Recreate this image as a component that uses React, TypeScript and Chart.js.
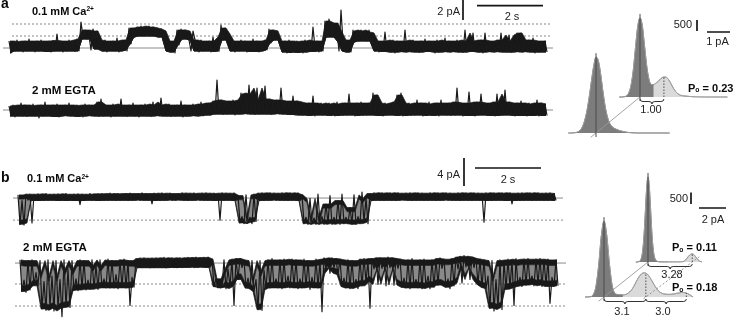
import React, { useEffect, useRef } from "react";
import { Chart, registerables } from "chart.js";

Chart.register(...registerables);

const FONT = '"Liberation Sans", Arial, Helvetica, sans-serif';

// Traces are sampled every SAMPLE_DT seconds; each sample keeps the upper and lower excursion (pA).
const SAMPLE_DT = 4 / 33;

// ---------- panel a, 0.1 mM Ca2+ (openings upward) ----------
const aCaHi = [
  0.5, 0.4, 0.6, 0.45, 0.5, 0.7, 0.4, 0.5, 0.6, 0.45,
  0.5, 0.55, 1.2, 0.5, 0.4, 0.6, 0.5, 0.7,
  2.4, 1.6, 1.0, 1.7, 1.5,
  0.5, 0.6, 0.4, 0.5, 0.8, 0.5, 0.6,
  1.8, 1.8, 1.9, 2.0, 1.9, 2.0, 1.9, 1.8, 1.7, 1.5,
  0.5, 0.4, 1.6, 1.7, 1.6, 0.6, 1.5,
  0.5, 0.6, 0.45, 0.5, 0.9, 0.5,
  2.1, 1.8, 1.2,
  0.5, 0.4, 0.6, 0.5, 0.45, 0.7, 0.5, 0.4, 0.6,
  1.7, 1.6, 1.5,
  0.4, 0.5, 0.6, 0.4, 0.5, 0.45, 0.6, 0.5,
  1.9, 0.5, 0.4,
  2.5, 2.7, 2.3, 1.4, 3.6,
  0.6, 0.5,
  1.6, 1.5, 1.6, 1.4, 1.6, 1.3,
  0.5, 0.4, 1.4, 0.5, 0.6, 0.5, 0.45, 1.6, 0.5, 0.6,
  0.4, 0.5, 0.7, 0.5, 0.45, 0.6, 0.5, 0.8, 0.5, 0.4,
  0.6, 0.5, 1.6, 0.5, 1.3, 0.5, 0.6, 1.3, 0.5, 0.45,
  0.6, 1.3, 0.5, 1.1, 0.5, 1.3, 1.3, 0.5, 0.6, 0.8,
  0.5, 0.45, 0.5,
];
const aCaLo = [
  -0.7, -0.5, -0.4, -0.6, -0.5, -0.45, -0.6, -0.5, -0.4, -0.55,
  -0.6, -0.5, -0.45, -0.6, -0.5, -0.4, -0.55, -0.5,
  0.9, 0.7, -0.4, 0.8, -0.3,
  -0.5, -0.6, -0.45, -0.5, -0.6, -0.4, -0.5,
  0.2, 0.9, 1.0, 1.0, 1.1, 1.0, 1.0, 0.9, 0.9, -0.5,
  -0.6, -0.7, 0.1, 0.7, 0.8, -0.5, 0.6,
  -0.6, -0.5, -0.45, -0.6, -0.5, -0.55,
  0.6, 0.8, -0.5,
  -0.6, -0.5, -0.45, -0.6, -0.5, -0.55, -0.6, -0.5, -0.4,
  0.3, 0.6, 0.7,
  -0.6, -0.7, -0.6, -0.65, -0.6, -0.7, -0.6, -0.55,
  -0.2, -0.6, -0.5,
  0.9, 1.0, 0.9, -0.5, 0.4,
  -0.6, -0.6,
  0.4, 0.5, 0.6, 0.5, 0.5, -0.5,
  -0.6, -0.5, -0.55, -0.6, -0.7, -0.5, -0.6, -0.55, -0.6, -0.5,
  -0.65, -0.6, -0.5, -0.55, -0.7, -0.6, -0.5, -0.6, -0.55, -0.6,
  -0.5, -0.65, -0.6, -0.5, -0.55, -0.6, -0.7, -0.5, -0.6, -0.55,
  -0.6, -0.5, -0.6, -0.65, -0.5, -0.6, -0.55, -0.6, -0.5, -0.7,
  -0.6, -0.55, -0.6,
];
const aCaSolidLevels = [-0.2];
const aCaDashedLevels = [1.0, 2.2];

// ---------- panel a, 2 mM EGTA ----------
const aEgtaHi = [
  0.4, 0.5, 0.45, 0.7, 0.5, 0.4, 0.6, 0.45, 0.5, 0.8,
  0.45, 0.5, 0.6, 0.4, 0.5, 0.7, 0.45, 0.5, 0.4, 0.6,
  0.5, 0.45, 0.8, 1.1, 0.5, 0.4, 0.6, 0.5, 1.1, 0.45,
  0.5, 0.7, 0.45, 0.5, 0.6, 0.4, 0.8, 0.5, 1.2, 0.5,
  0.6, 0.45, 0.5, 0.9, 0.5, 0.4, 0.6, 0.5, 0.8, 0.6,
  0.7, 0.9, 3.0, 1.0, 0.9, 0.8, 1.0, 0.9, 1.7, 1.6,
  2.5, 1.0, 2.2, 0.9, 2.4, 1.1, 0.9, 1.0, 2.2, 0.9,
  0.8, 1.4, 0.9, 0.8, 0.6, 0.7, 1.4, 0.6, 0.7, 0.6,
  0.7, 0.6, 0.8, 0.6, 0.7, 1.6, 0.6, 0.7, 0.8, 0.6,
  0.7, 1.7, 1.5, 0.6, 0.7, 0.6, 0.8, 1.5, 1.7, 0.6,
  0.7, 0.6, 1.0, 0.7, 0.6, 0.8, 0.6, 0.7, 1.0, 0.6,
  0.7, 0.8, 2.2, 0.7, 0.6, 1.8, 0.7, 0.8, 1.6, 0.7,
  0.6, 0.8, 1.6, 0.7, 2.0, 0.8, 0.6, 0.7, 0.9, 0.6,
  0.7, 0.6, 1.0, 0.7, 0.6,
];
const aEgtaLo = [
  -0.6, -0.7, -0.5, -0.6, -0.65, -0.55, -0.6, -0.8, -0.6, -0.5,
  -0.6, -0.65, -0.7, -0.55, -0.6, -0.5, -0.65, -0.6, -0.7, -0.55,
  -0.6, -0.5, -0.65, -0.6, -0.55, -0.7, -0.6, -0.5, -0.6, -0.65,
  -0.55, -0.6, -0.7, -0.5, -0.6, -0.65, -0.55, -0.6, -0.5, -0.6,
  -0.65, -0.6, -0.55, -0.7, -0.6, -0.5, -0.6, -0.55, -0.6, -0.5,
  -0.5, -0.4, -0.3, -0.45, -0.4, -0.35, -0.5, -0.4, -0.3, -0.4,
  -0.35, -0.45, -0.4, -0.3, -0.4, -0.45, -0.35, -0.4, -0.3, -0.45,
  -0.4, -0.5, -0.45, -0.5, -0.55, -0.5, -0.6, -0.45, -0.5, -0.55,
  -0.5, -0.6, -0.45, -0.55, -0.5, -0.45, -0.6, -0.5, -0.55, -0.5,
  -0.45, -0.5, -0.55, -0.6, -0.5, -0.45, -0.55, -0.5, -0.6, -0.5,
  -0.55, -0.5, -0.45, -0.6, -0.5, -0.55, -0.5, -0.6, -0.45, -0.5,
  -0.55, -0.5, -0.45, -0.6, -0.5, -0.55, -0.6, -0.5, -0.45, -0.55,
  -0.5, -0.6, -0.55, -0.5, -0.45, -0.5, -0.6, -0.55, -0.5, -0.6,
  -0.55, -0.5, -0.6, -0.5, -0.55,
];
const aEgtaSolidLevels = [0];

// ---------- panel b, 0.1 mM Ca2+ (openings downward) ----------
const bCaHi = [
  0.3, -0.5, 0.4, 0.4, 0.35, 0.45, 0.4, 0.5, 0.35, 0.4,
  0.45, 0.4, 0.5, 0.35, 0.4, 0.45, 0.4, 0.35, 0.5, 0.4,
  0.45, 0.5, 0.4, 0.55, 0.45, 0.5, 0.4, 0.5, 0.55, 0.45,
  0.5, 0.6, 0.5, 0.45, 0.55, 0.5, 0.6, 0.5, 0.55, 0.45,
  0.5, 0.6, 0.55, 0.5, 0.6, 0.5, 0.55, 0.6, 0.5, 0.55,
  0.5, 0.6, 0.55, 0.5, 0.6, 0.2, -2.8, 0.3, -2.9, 0.4,
  0.55, 0.6, 0.5, 0.6, 0.55, 0.5, 0.6, 0.55, 0.6, 0.5,
  0.6, 0.3, -2.9, -0.2, -3.0, 0.4, -2.8, -1.0, 0.2, -2.9,
  -0.5, 0.4, -2.9, -1.5, 0.3, -2.8, 0.7, -0.2, 0.5, 0.6,
  0.55, 0.6, 0.5, 0.6, 0.55, 0.6, 0.5, 0.55, 0.6, 0.5,
  0.6, 0.55, 0.5, 0.6, 0.55, 0.6, 0.5, 0.6, 0.55, 0.5,
  0.6, 0.55, 0.6, 0.5, 0.6, 0.55, 0.5, 0.6, 0.55, 0.6,
  0.5, 0.6, 0.55, 0.6, 0.5, 0.55, 0.6, 0.5, 0.6, 0.55,
  0.6, 0.5, 0.55, 0.6, 0.5,
];
const bCaLo = [
  -3.9, -4.0, -0.45, -3.7, -0.5, -0.4, -0.5, -0.45, -0.4, -0.5,
  -0.45, -0.5, -0.4, -0.5, -0.45, -1.1, -0.5, -0.4, -0.45, -0.5,
  -0.4, -0.5, -0.45, -0.4, -0.5, -0.45, -0.4, -0.5, -0.45, -0.4,
  -0.5, -0.4, -0.45, -1.0, -0.4, -0.5, -0.45, -0.4, -0.5, -0.4,
  -0.45, -0.4, -0.5, -0.45, -0.4, -0.5, -0.4, -0.45, -0.5, -0.4,
  -3.3, -0.45, -0.4, -0.5, -0.45, -3.7, -3.8, -3.6, -3.8, -3.5,
  -0.4, -0.5, -0.45, -0.4, -0.5, -0.4, -0.45, -0.5, -0.4, -0.45,
  -0.5, -3.8, -3.9, -3.8, -3.9, -3.7, -3.9, -3.8, -3.9, -3.8,
  -3.9, -3.8, -3.8, -3.9, -3.9, -3.8, -3.6, -3.8, -0.5, -0.4,
  -0.45, -0.5, -0.4, -0.45, -0.5, -0.4, -0.45, -0.4, -0.5, -0.45,
  -0.4, -0.5, -0.45, -0.4, -0.5, -0.45, -0.4, -0.5, -0.4, -0.45,
  -0.5, -0.4, -0.45, -0.5, -0.4, -0.45, -3.6, -0.4, -0.5, -0.45,
  -0.4, -0.5, -0.45, -1.0, -0.4, -0.5, -0.45, -0.4, -0.5, -0.45,
  -0.4, -0.5, -0.45, -0.4, -0.5,
];
const bCaSolidLevels = [-0.15];
const bCaDashedLevels = [-3.3];

// ---------- panel b, 2 mM EGTA ----------
const bEgtaHi = [
  0.3, -2.6, 0.2, 0.3, -1.5, 0.2, -2.8, 0.3, -2.0, 0.2,
  -2.5, 0.3, -1.0, 0.2, -2.4, 0.3, 0.2, -2.6, 0.3, -0.5,
  0.3, -2.4, 0.4, 0.2, -1.8, 0.3, 0.4, 0.2, -2.2, 0.5,
  0.55, 0.6, 0.5, 0.55, 0.6, 0.5, 0.65, 0.55, 0.6, 0.5,
  0.6, 0.55, 0.65, 0.6, 0.7, 0.6, 0.65, 0.7, 0.4, -2.4,
  -2.6, 0.3, -1.0, 0.4, 0.5, 0.5, 0.3, -2.3, 0.2, -2.5,
  0.2, -1.2, 0.3, 0.5, -2.4, 0.3, 0.4, -2.0, 0.4, 0.3,
  -2.4, 0.4, 0.2, -2.2, 0.4, 0.3, 0.6, 0.5, 0.6, 0.5,
  0.4, -2.3, 0.3, 0.2, -2.5, 0.4, 0.5, 0.3, 0.5, 0.6,
  0.6, 0.5, 0.7, 0.6, 0.5, 0.4, -2.3, 0.3, 0.5, -2.5,
  0.3, 0.4, -2.0, 0.3, 0.5, 0.6, 0.4, -2.4, 0.5, 0.7,
  0.8, 0.9, 0.8, 0.7, 0.5, 0.4, 0.3, -2.0, 0.2, -2.5,
  0.3, 0.2, 0.4, 0.3, 0.5, -2.2, 0.4, 0.5, -2.0, 0.4,
  0.5, 0.3, 0.4, -2.2, 0.3,
];
const bEgtaLo = [
  -4.2, -4.3, -4.0, -3.3, -3.4, -6.7, -6.9, -6.5, -7.0, -6.6,
  -7.8, -6.4, -6.5, -4.0, -4.1, -3.8, -4.0, -3.9, -3.8, -3.9,
  -3.6, -3.7, -3.7, -3.7, -3.8, -3.6, -3.7, -6.2, -3.6, -0.8,
  -0.8, -0.75, -0.85, -0.8, -0.7, -0.8, -0.85, -0.75, -0.8, -0.7,
  -0.8, -0.75, -0.7, -0.8, -0.7, -0.75, -0.7, -0.75, -3.5, -3.7,
  -3.6, -3.8, -3.5, -6.2, -2.5, -0.8, -3.7, -3.8, -4.2, -6.8,
  -6.9, -3.9, -3.7, -3.6, -3.7, -3.8, -3.5, -3.7, -3.6, -3.8,
  -3.7, -3.6, -3.9, -3.6, -3.7, -7.1, -0.9, -1.6, -0.8, -1.8,
  -3.5, -3.7, -3.8, -3.6, -3.8, -3.4, -2.8, -6.6, -1.0, -3.2,
  -0.9, -3.4, -0.8, -3.3, -0.9, -3.6, -3.7, -3.8, -3.6, -3.7,
  -3.8, -3.5, -3.8, -3.6, -3.3, -0.9, -3.6, -3.8, -3.4, -1.0,
  -3.0, -0.7, -2.5, -0.8, -3.2, -3.6, -3.8, -6.6, -7.0, -6.5,
  -6.8, -3.9, -3.7, -6.2, -3.4, -3.5, -3.3, -3.0, -3.4, -3.2,
  -3.5, -3.3, -5.9, -3.5, -3.4,
];
const bEgtaSolidLevels = [-0.15];
const bEgtaDashedLevels = [-3.14, -6.29];

// ---------- all-points histograms (counts per bin, current in pA) ----------
const aHistCaStart = -0.9;
const aHistCaStep = 0.1;
const aHistCaCounts = [
  0, 0, 10, 40, 160, 480, 1150, 2200, 3200, 3600,
  3250, 2300, 1350, 760, 560, 560, 640, 720, 830, 900,
  910, 850, 700, 500, 320, 190, 110, 70, 50, 40,
  30, 20, 12, 8, 5, 3, 2, 0, 0, 0, 0, 0, 0, 0, 0, 0, 0, 0,
];
const aHistCaLevels = [0, 1.04];

const aHistEgtaStart = -1.2;
const aHistEgtaStep = 0.1;
const aHistEgtaCounts = [
  0, 0, 5, 15, 45, 110, 260, 540, 980, 1600,
  2350, 3050, 3450, 3300, 2700, 1900, 1200, 720, 430, 290,
  210, 160, 120, 90, 60, 40, 25, 15, 8, 4,
  2, 0, 0, 0, 0, 0, 0, 0, 0, 0, 0, 0, 0, 0, 0,
];
const aHistEgtaLevels = [0];

const bHistCaStart = -0.9;
const bHistCaStep = 0.1;
const bHistCaCounts = [
  0, 0, 10, 40, 150, 450, 1100, 2150, 3200, 3700,
  3250, 2200, 1150, 480, 170, 60, 25, 12, 8, 6,
  5, 5, 5, 5, 5, 5, 5, 5, 5, 5, 5, 5, 5, 5,
  10, 20, 50, 100, 170, 250, 310, 345, 350, 320, 250, 170, 100, 50, 20, 5,
];
const bHistCaLevels = [0, 3.28];

const bHistEgtaStart = -1.4;
const bHistEgtaStep = 0.2;
const bHistEgtaCounts = [
  0, 3, 15, 95, 450, 1350, 2650, 3300, 2700, 1450,
  520, 160, 110, 95, 90, 110, 170, 280, 450, 680,
  880, 1020, 1050, 1000, 850, 650, 450, 290, 190, 140,
  120, 115, 120, 135, 160, 180, 200, 190, 150, 80, 0,
];
const bHistEgtaLevels = [0, 3.1, 6.1];

// ---------------------------------------------------------------------------

function median3(arr: number[], i: number) {
  const a = arr[Math.max(0, i - 1)];
  const b = arr[i];
  const c = arr[Math.min(arr.length - 1, i + 1)];
  return Math.max(Math.min(a, b), Math.min(Math.max(a, b), c));
}

function makeTraceChart(canvas: HTMLCanvasElement, cfg: any) {
  const n = Math.min(cfg.hi.length, cfg.lo.length);
  const w = cfg.noise;
  const zig: any[] = [];
  const upTop: any[] = [];
  const upBot: any[] = [];
  const lowTop: any[] = [];
  const lowBot: any[] = [];
  for (let i = 0; i < n; i++) {
    zig.push({ x: i * SAMPLE_DT, y: cfg.hi[i] });
    zig.push({ x: (i + 0.5) * SAMPLE_DT, y: cfg.lo[i] });
    const t = (i + 0.25) * SAMPLE_DT;
    const h = median3(cfg.hi, i);
    const l = Math.min(median3(cfg.lo, i), h);
    const solid = h - l <= cfg.gap;
    upTop.push({ x: t, y: h });
    upBot.push({ x: t, y: solid ? l : Math.max(h - w, l) });
    lowTop.push({ x: t, y: solid ? l : Math.min(l + w, h) });
    lowBot.push({ x: t, y: l });
  }
  const band = { borderColor: "#181818", borderWidth: 0.7, backgroundColor: "#181818", pointRadius: 0, tension: 0, order: 1 };
  const datasets: any[] = [
    {
      data: zig,
      borderColor: "#1a1a1a",
      borderWidth: 1.2,
      borderJoinStyle: "round",
      pointRadius: 0,
      tension: 0,
      fill: false,
      order: 0,
    },
    { ...band, data: upTop, fill: false },
    { ...band, data: upBot, fill: "-1" },
    { ...band, data: lowTop, fill: "-1", backgroundColor: "rgba(40,40,40,0.55)" },
    { ...band, data: lowBot, fill: "-1" },
  ];
  cfg.solid.forEach((lv: number) =>
    datasets.push({
      data: [
        { x: cfg.solidSpan[0], y: lv },
        { x: cfg.solidSpan[1], y: lv },
      ],
      borderColor: "#8a8a8a",
      borderWidth: 1,
      pointRadius: 0,
      fill: false,
      order: 2,
    })
  );
  (cfg.dashed || []).forEach((lv: number) =>
    datasets.push({
      data: [
        { x: cfg.dashSpan[0], y: lv },
        { x: cfg.dashSpan[1], y: lv },
      ],
      borderColor: "#8a8a8a",
      borderWidth: 1,
      borderDash: [2, 2],
      pointRadius: 0,
      fill: false,
      order: 2,
    })
  );
  const bars = cfg.bars;
  const barPlugin = {
    id: "traceBars",
    afterDatasetsDraw(chart: any) {
      if (!bars) return;
      const ctx = chart.ctx;
      const xs = chart.scales.x;
      const ys = chart.scales.y;
      ctx.save();
      ctx.strokeStyle = "#151515";
      ctx.lineWidth = 1.7;
      ctx.beginPath();
      const vx = xs.getPixelForValue(bars.vt);
      ctx.moveTo(vx, ys.getPixelForValue(bars.vv));
      ctx.lineTo(vx, ys.getPixelForValue(bars.vv + bars.vlen));
      const hy = ys.getPixelForValue(bars.hv);
      ctx.moveTo(xs.getPixelForValue(bars.ht), hy);
      ctx.lineTo(xs.getPixelForValue(bars.ht + bars.hlen), hy);
      ctx.stroke();
      ctx.restore();
    },
  };
  return new Chart(canvas, {
    type: "line",
    data: { datasets },
    options: {
      animation: false,
      responsive: false,
      maintainAspectRatio: false,
      events: [],
      layout: { padding: 0, autoPadding: false },
      plugins: { legend: { display: false }, tooltip: { enabled: false } },
      scales: {
        x: { type: "linear", min: cfg.x[0], max: cfg.x[1], display: false },
        y: { type: "linear", min: cfg.y[0], max: cfg.y[1], display: false },
      },
    } as any,
    plugins: [barPlugin],
  });
}

function interpCount(h: any, x: number) {
  const k = (x - h.start) / h.step;
  const i = Math.floor(k);
  const f = k - i;
  const a = h.counts[i] ?? 0;
  const b = h.counts[i + 1] ?? 0;
  return a + (b - a) * f;
}

function histDatasets(h: any) {
  const pts = h.counts.map((c: number, k: number) => ({ x: h.start + k * h.step, y: c }));
  const eps = 1e-9;
  const dark = pts.map((p: any) => ({ x: p.x, y: p.x <= h.split + eps ? p.y : null }));
  const light = pts.map((p: any) => ({ x: p.x, y: p.x >= h.split - eps ? p.y : null }));
  const common = {
    xAxisID: h.xAxisID,
    yAxisID: h.yAxisID,
    pointRadius: 0,
    cubicInterpolationMode: "monotone",
    spanGaps: false,
  };
  const ds: any[] = [
    { ...common, data: pts, borderColor: "#a0a0a0", borderWidth: 1, fill: false, order: 0 },
    {
      ...common,
      data: dark,
      backgroundColor: "#7c7c7c",
      borderColor: "#505050",
      borderWidth: 0.8,
      fill: "origin",
      order: 2,
    },
  ];
  if (light.some((p: any) => p.y !== null)) {
    ds.push({
      ...common,
      data: light,
      backgroundColor: "#dadada",
      borderColor: "#8a8a8a",
      borderWidth: 0.8,
      fill: "origin",
      order: 3,
    });
  }
  return ds;
}

function drawBrace(ctx: CanvasRenderingContext2D, x1: number, x2: number, y: number, d: number) {
  const xm = (x1 + x2) / 2;
  const r = Math.min(3, (x2 - x1) / 4);
  const m = y + d / 2;
  ctx.beginPath();
  ctx.moveTo(x1, y);
  ctx.quadraticCurveTo(x1, m, x1 + r, m);
  ctx.lineTo(xm - r, m);
  ctx.quadraticCurveTo(xm, m, xm, y + d);
  ctx.quadraticCurveTo(xm, m, xm + r, m);
  ctx.lineTo(x2 - r, m);
  ctx.quadraticCurveTo(x2, m, x2, y);
  ctx.stroke();
}

function makeHistChart(canvas: HTMLCanvasElement, cfg: any) {
  const front = cfg.front;
  const back = cfg.back;
  const datasets = [...histDatasets(front), ...histDatasets(back)];
  const annot = {
    id: "histAnnot",
    afterDatasetsDraw(chart: any) {
      const ctx = chart.ctx;
      const S = chart.scales;
      const fx = S[front.xAxisID];
      const fy = S[front.yAxisID];
      const bx = S[back.xAxisID];
      const by = S[back.yAxisID];
      ctx.save();
      const diag = (lf: number, lb: number, e0: number, e1: number, dash: number[], color: string) => {
        const x1 = fx.getPixelForValue(lf);
        const y1 = fy.getPixelForValue(0);
        const x2 = bx.getPixelForValue(lb);
        const y2 = by.getPixelForValue(0);
        const dx = x2 - x1;
        const dy = y2 - y1;
        ctx.setLineDash(dash);
        ctx.strokeStyle = color;
        ctx.lineWidth = 0.9;
        ctx.beginPath();
        ctx.moveTo(x1 - dx * e0, y1 - dy * e0);
        ctx.lineTo(x2 + dx * e1, y2 + dy * e1);
        ctx.stroke();
      };
      diag(front.levels[0], back.levels[0], 0.12, 0.02, [], "#9a9a9a");
      if (cfg.openDiag) diag(front.levels[1], back.levels[1], 0.05, 0.15, [2, 2], "#8a8a8a");

      for (const h of [front, back]) {
        const xs = S[h.xAxisID];
        const ys = S[h.yAxisID];
        const base = ys.getPixelForValue(0);
        h.levels.forEach((lv: number, k: number) => {
          const px = xs.getPixelForValue(lv);
          ctx.beginPath();
          ctx.lineWidth = 1;
          if (k === 0) {
            ctx.setLineDash([]);
            ctx.strokeStyle = "#4a4a4a";
            ctx.moveTo(px, base + 4);
            ctx.lineTo(px, ys.getPixelForValue(Math.max(...h.counts)) - 4);
          } else {
            ctx.setLineDash([1.5, 1.5]);
            ctx.strokeStyle = "#505050";
            ctx.moveTo(px, base);
            ctx.lineTo(px, ys.getPixelForValue(interpCount(h, lv)));
          }
          ctx.stroke();
        });
      }

      ctx.setLineDash([]);
      ctx.strokeStyle = "#333";
      ctx.lineWidth = 1;
      cfg.braces.forEach((br: any) => {
        const h = br.hist === "front" ? front : back;
        const xs = S[h.xAxisID];
        const ys = S[h.yAxisID];
        drawBrace(ctx, xs.getPixelForValue(br.from), xs.getPixelForValue(br.to), ys.getPixelForValue(0) + 2, 5);
      });

      const sb = cfg.bars;
      ctx.strokeStyle = "#151515";
      ctx.lineWidth = 1.7;
      ctx.beginPath();
      const vx = bx.getPixelForValue(sb.vx);
      ctx.moveTo(vx, by.getPixelForValue(sb.vy));
      ctx.lineTo(vx, by.getPixelForValue(sb.vy + sb.vlen));
      const hy = by.getPixelForValue(sb.hy);
      ctx.moveTo(bx.getPixelForValue(sb.hx), hy);
      ctx.lineTo(bx.getPixelForValue(sb.hx + sb.hlen), hy);
      ctx.stroke();
      ctx.restore();
    },
  };
  return new Chart(canvas, {
    type: "line",
    data: { datasets },
    options: {
      animation: false,
      responsive: false,
      maintainAspectRatio: false,
      events: [],
      layout: { padding: 0, autoPadding: false },
      plugins: { legend: { display: false }, tooltip: { enabled: false } },
      scales: {
        xF: { type: "linear", axis: "x", min: cfg.scales.xF[0], max: cfg.scales.xF[1], display: false },
        xB: { type: "linear", axis: "x", min: cfg.scales.xB[0], max: cfg.scales.xB[1], display: false },
        yF: { type: "linear", axis: "y", min: cfg.scales.yF[0], max: cfg.scales.yF[1], display: false },
        yB: { type: "linear", axis: "y", min: cfg.scales.yB[0], max: cfg.scales.yB[1], display: false },
      },
    } as any,
    plugins: [annot],
  });
}

// ---------------------------------------------------------------------------

const traceA1 = {
  hi: aCaHi, lo: aCaLo, noise: 0.5, gap: 2.2,
  x: [-9 / 33, 561 / 33], y: [-1.6, 4.6],
  solid: aCaSolidLevels, dashed: aCaDashedLevels,
  solidSpan: [-6 / 33, 544 / 33], dashSpan: [3 / 33, 543 / 33],
  bars: { vt: 454 / 33, vv: 2.6, vlen: 2, ht: 468 / 33, hv: 4.03, hlen: 2 },
};
const traceA2 = {
  hi: aEgtaHi, lo: aEgtaLo, noise: 0.5, gap: 3.0,
  x: [-9 / 33, 561 / 33], y: [-1.6, 4.8],
  solid: aEgtaSolidLevels, dashed: [],
  solidSpan: [-6 / 33, 544 / 33], dashSpan: [0, 0],
};
const traceB1 = {
  hi: bCaHi, lo: bCaLo, noise: 0.6, gap: 1.6,
  x: [-18 / 33, 552 / 33], y: [-43 / 7, 47 / 7],
  solid: bCaSolidLevels, dashed: bCaDashedLevels,
  solidSpan: [-5 / 33, 545 / 33], dashSpan: [-5 / 33, 545 / 33],
  bars: { vt: 446 / 33, vv: 11 / 7, vlen: 4, ht: 457 / 33, hv: 29 / 7, hlen: 2 },
};
const traceB2 = {
  hi: bEgtaHi, lo: bEgtaLo, noise: 0.8, gap: 1.7,
  x: [-20 / 33, 550 / 33], y: [-8.0, 26 / 7],
  solid: bEgtaSolidLevels, dashed: bEgtaDashedLevels,
  solidSpan: [-5 / 33, 546 / 33], dashSpan: [-5 / 33, 546 / 33],
};

const histA = {
  front: { counts: aHistEgtaCounts, start: aHistEgtaStart, step: aHistEgtaStep, split: 99, levels: aHistEgtaLevels, xAxisID: "xF", yAxisID: "yF" },
  back: { counts: aHistCaCounts, start: aHistCaStart, step: aHistCaStep, split: 0.6, levels: aHistCaLevels, xAxisID: "xB", yAxisID: "yB" },
  scales: {
    xF: [-36 / 23, 142 / 23],
    xB: [-80 / 23, 98 / 23],
    yF: [-27 * 45.5, 133 * 45.5],
    yB: [-63 * 45.5, 97 * 45.5],
  },
  openDiag: false,
  braces: [{ hist: "back", from: 0, to: 1.04 }],
  bars: { vx: 57 / 23, vy: 66 * 45.5, vlen: 500, hx: 67 / 23, hy: 65 * 45.5, hlen: 1 },
};
const histB = {
  front: { counts: bHistEgtaCounts, start: bHistEgtaStart, step: bHistEgtaStep, split: 1.4, levels: bHistEgtaLevels, xAxisID: "xF", yAxisID: "yF" },
  back: { counts: bHistCaCounts, start: bHistCaStart, step: bHistCaStep, split: 1.5, levels: bHistCaLevels, xAxisID: "xB", yAxisID: "yB" },
  scales: {
    xF: [-44 / 13.5, 134 / 13.5],
    xB: [-88 / 13.5, 90 / 13.5],
    yF: [-21 * 43.5, 137 * 43.5],
    yB: [-56 * 43.5, 102 * 43.5],
  },
  openDiag: true,
  braces: [
    { hist: "back", from: 0, to: 3.28 },
    { hist: "front", from: 0, to: 3.1 },
    { hist: "front", from: 3.1, to: 6.1 },
  ],
  bars: { vx: 43 / 13.5, vy: 58 * 43.5, vlen: 500, hx: 51 / 13.5, hy: 54 * 43.5, hlen: 2 },
};

function ChartCanvas(props: any) {
  const ref = useRef<HTMLCanvasElement | null>(null);
  useEffect(() => {
    if (!ref.current) return;
    const chart = props.build(ref.current, props.cfg);
    return () => chart.destroy();
  }, []);
  return (
    <canvas
      ref={ref}
      width={props.width}
      height={props.height}
      style={{ position: "absolute", left: props.left, top: props.top, width: props.width, height: props.height }}
    />
  );
}

function Label(props: any) {
  const size = props.size || 11;
  const tr = props.align === "center" ? "translateX(-50%)" : props.align === "right" ? "translateX(-100%)" : undefined;
  return (
    <div
      style={{
        position: "absolute",
        left: props.x,
        top: props.y - 0.8465 * size,
        fontSize: size,
        lineHeight: `${size}px`,
        fontWeight: props.bold ? 700 : 400,
        fontFamily: FONT,
        color: props.bold ? "#0a0a0a" : "#222",
        whiteSpace: "nowrap",
        transform: tr,
      }}
    >
      {props.children}
    </div>
  );
}

const Sup = (p: any) => (
  <span style={{ fontSize: "0.6em", position: "relative", top: "-0.5em" }}>{p.children}</span>
);
const Sub = (p: any) => (
  <span style={{ fontSize: "0.62em", position: "relative", top: "0.05em" }}>{p.children}</span>
);

export default function App() {
  return (
    <div style={{ position: "fixed", left: 0, top: 0, width: 738, height: 318, background: "#fff", overflow: "hidden" }}>
      <ChartCanvas left={0} top={0} width={570} height={62} build={makeTraceChart} cfg={traceA1} />
      <ChartCanvas left={0} top={62} width={570} height={64} build={makeTraceChart} cfg={traceA2} />
      <ChartCanvas left={0} top={150} width={570} height={90} build={makeTraceChart} cfg={traceB1} />
      <ChartCanvas left={0} top={236} width={570} height={82} build={makeTraceChart} cfg={traceB2} />
      <ChartCanvas left={560} top={0} width={178} height={160} build={makeHistChart} cfg={histA} />
      <ChartCanvas left={560} top={160} width={178} height={158} build={makeHistChart} cfg={histB} />

      <Label x={1} y={8} size={14} bold>a</Label>
      <Label x={32} y={15} size={11} bold>0.1 mM Ca<Sup>2+</Sup></Label>
      <Label x={460} y={15.5} align="right">2 pA</Label>
      <Label x={512} y={20} align="center">2 s</Label>
      <Label x={32} y={95} size={11.5} bold>2 mM EGTA</Label>
      <Label x={692} y={28.5} align="right">500</Label>
      <Label x={717.5} y={45} align="center">1 pA</Label>
      <Label x={688} y={92} bold>P<Sub>o</Sub> = 0.23</Label>
      <Label x={651} y={113.5} align="center">1.00</Label>

      <Label x={1} y={182} size={14} bold>b</Label>
      <Label x={27} y={182.5} size={11} bold>0.1 mM Ca<Sup>2+</Sup></Label>
      <Label x={460} y={178} align="right">4 pA</Label>
      <Label x={508} y={183} align="center">2 s</Label>
      <Label x={23} y={252} size={11.5} bold>2 mM EGTA</Label>
      <Label x={688} y={202} align="right">500</Label>
      <Label x={713} y={223} align="center">2 pA</Label>
      <Label x={672} y={251.5} bold>P<Sub>o</Sub> = 0.11</Label>
      <Label x={672} y={278} align="center">3.28</Label>
      <Label x={672} y={291.5} bold>P<Sub>o</Sub> = 0.18</Label>
      <Label x={622} y={315} align="center">3.1</Label>
      <Label x={663} y={315} align="center">3.0</Label>
    </div>
  );
}
